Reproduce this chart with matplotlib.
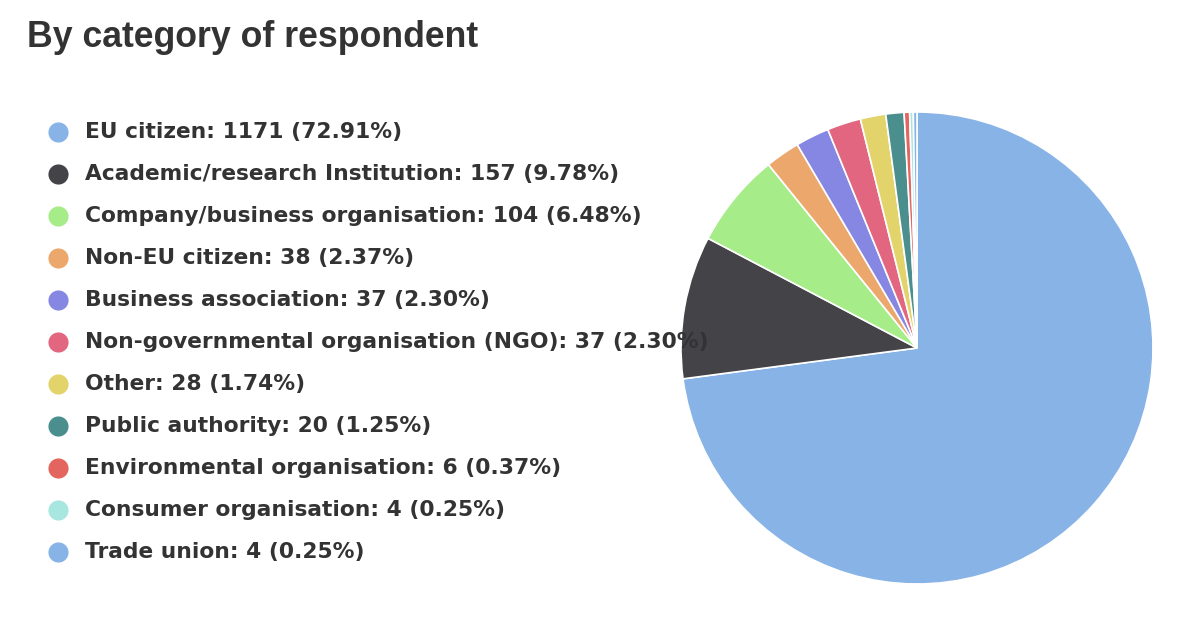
import matplotlib
matplotlib.use("Agg")
import matplotlib.pyplot as plt
from matplotlib.lines import Line2D

categories = ["EU citizen", "Academic/research Institution", "Company/business organisation",
              "Non-EU citizen", "Business association", "Non-governmental organisation (NGO)",
              "Other", "Public authority", "Environmental organisation",
              "Consumer organisation", "Trade union"]
counts = [1171, 157, 104, 38, 37, 37, 28, 20, 6, 4, 4]
percents = ["72.91", "9.78", "6.48", "2.37", "2.30", "2.30", "1.74", "1.25", "0.37", "0.25", "0.25"]
colors = ["#88b3e6", "#434348", "#a6ec88", "#eca86c", "#8587e3", "#e2667f",
          "#e2d46a", "#4a8f8d", "#e4645f", "#a8e6e0", "#88b3e6"]

W, H = 1192, 638
fig = plt.figure(figsize=(W/100, H/100), dpi=100)
fig.patch.set_facecolor("white")

# pie
cx, cy, r = 917, 348, 236
ax = fig.add_axes([(cx - r)/W, 1 - (cy + r)/H, 2*r/W, 2*r/H])
ax.pie(counts, colors=colors, startangle=90, counterclock=False,
       wedgeprops=dict(edgecolor="white", linewidth=1.2))
ax.set_xlim(-1, 1); ax.set_ylim(-1, 1)
ax.set_aspect("equal")
ax.axis("off")

fig.text(27/W, 1 - 47/H, "By category of respondent", fontsize=25.7, fontweight="bold",
         family=["Liberation Sans", "DejaVu Sans"], color="#333333",
         va="baseline", ha="left")

y0, dy = 132, 42
for i, (c, n, p, col) in enumerate(zip(categories, counts, percents, colors)):
    y = y0 + i*dy
    fig.add_artist(Line2D([58/W], [1 - y/H], marker="o", markersize=14.5, color=col,
                          markeredgewidth=0, transform=fig.transFigure))
    fig.text(85/W, 1 - y/H, f"{c}: {n} ({p}%)", fontsize=15.7, fontweight="bold",
             family="DejaVu Sans", color="#333333", va="center", ha="left", zorder=5)

fig.savefig("out.png", dpi=100, facecolor="white")
